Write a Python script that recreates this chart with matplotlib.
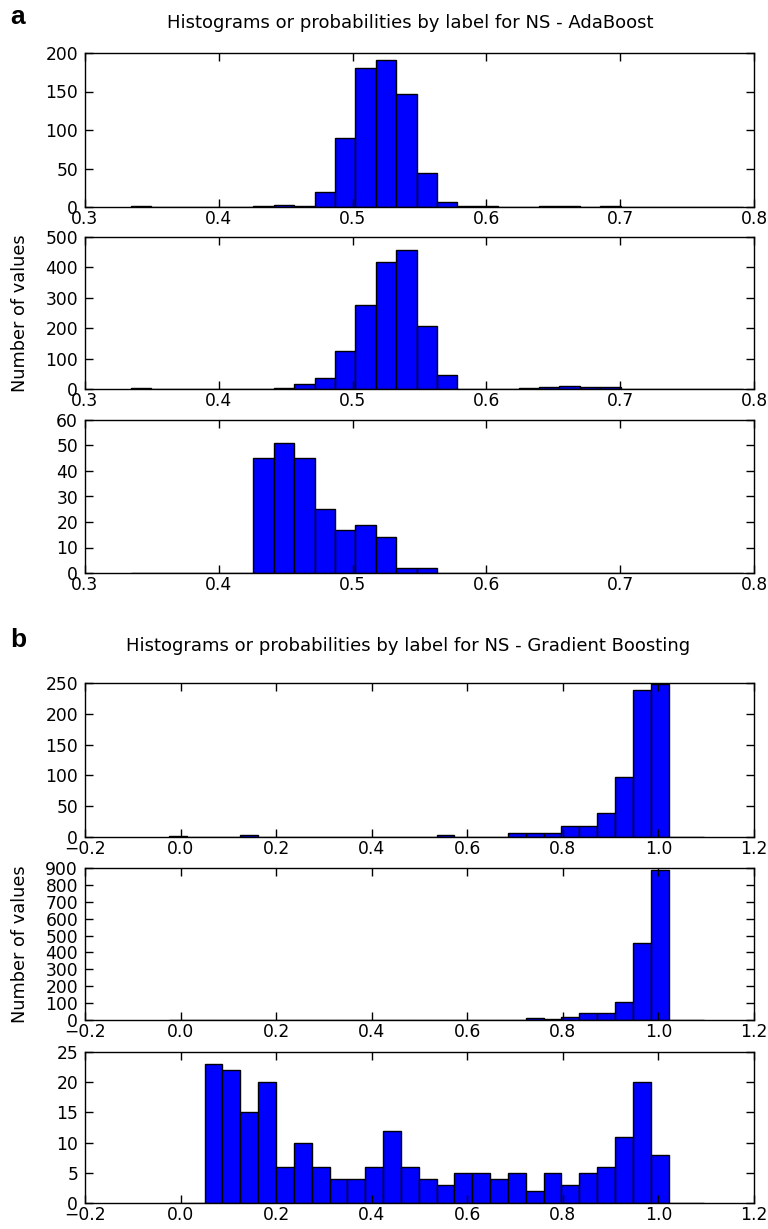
import numpy as np
import matplotlib.pyplot as plt

# AdaBoost: 30 shared bins between these limits
ada_range = (0.3344, 0.7918)
ada_counts_1 = [1, 0, 0, 0, 0, 0, 1, 3, 1, 19, 90, 180, 191, 147, 44,
                7, 1, 1, 0, 0, 1, 1, 0, 1, 0, 0, 0, 0, 0, 0]
ada_counts_2 = [2, 0, 0, 0, 0, 0, 1, 4, 16, 36, 125, 275, 418, 457, 207,
                45, 0, 0, 0, 2, 6, 9, 6, 6, 0, 0, 0, 0, 0, 0]
ada_counts_3 = [0, 0, 0, 0, 0, 0, 45, 51, 45, 25, 17, 19, 14, 2, 2,
                0, 0, 0, 0, 0, 0, 0, 0, 0, 0, 0, 0, 0, 0, 0]

# Gradient Boosting: 30 shared bins
gb_range = (-0.0243, 1.0958)
gb_counts_1 = [1, 0, 0, 0, 3, 0, 0, 0, 0, 0, 0, 0, 0, 0, 0,
               3, 0, 0, 0, 6, 7, 7, 18, 18, 39, 98, 239, 249, 0, 0]
gb_counts_2 = [2, 0, 0, 0, 0, 0, 2, 2, 2, 2, 2, 2, 2, 2, 2,
               2, 2, 2, 2, 2, 10, 4, 18, 43, 43, 105, 458, 889, 0, 0]
gb_counts_3 = [0, 0, 23, 22, 15, 20, 6, 10, 6, 4, 4, 6, 12, 6, 4,
               3, 5, 5, 4, 5, 2, 5, 3, 5, 6, 11, 20, 8, 0, 0]

ada_ylims = [200, 500, 60]
ada_ysteps = [50, 100, 10]
gb_ylims = [250, 900, 25]
gb_ysteps = [50, 100, 5]

W, H = 768, 1229
fig = plt.figure(figsize=(W / 100, H / 100), dpi=100)
plt.rcParams['font.family'] = 'DejaVu Sans'


def add_ax(top, bottom, left=85, right=754):
    return fig.add_axes([left / W, 1 - bottom / H, (right - left) / W, (bottom - top) / H])


def draw_panel(ax, rng, counts, xlim, xstep, ylim, ystep):
    edges = np.linspace(rng[0], rng[1], len(counts) + 1)
    ax.bar(edges[:-1], counts, width=np.diff(edges), align='edge',
           color='blue', edgecolor='black', linewidth=1)
    ax.set_xlim(*xlim)
    ax.set_ylim(0, ylim)
    ax.set_xticks(np.round(np.arange(xlim[0], xlim[1] + 1e-9, xstep), 2))
    ax.set_yticks(np.arange(0, ylim + 1, ystep))
    ax.tick_params(direction='in', top=True, right=True, length=6, width=1,
                   labelsize=12.3)
    ax.tick_params(axis='x', pad=2)
    ax.tick_params(axis='y', pad=5)
    for s in ax.spines.values():
        s.set_linewidth(1)


ada_boxes = [(53, 207), (237, 389), (420, 573)]
for (t, b), c, yl, ys in zip(ada_boxes, [ada_counts_1, ada_counts_2, ada_counts_3],
                             ada_ylims, ada_ysteps):
    draw_panel(add_ax(t, b), ada_range, c, (0.3, 0.8), 0.1, yl, ys)

gb_boxes = [(683, 837), (868, 1020), (1052, 1203)]
for (t, b), c, yl, ys in zip(gb_boxes, [gb_counts_1, gb_counts_2, gb_counts_3],
                             gb_ylims, gb_ysteps):
    draw_panel(add_ax(t, b), gb_range, c, (-0.2, 1.2), 0.2, yl, ys)

# titles, panel letters, y labels
fig.text(410 / W, 1 - 23 / H, 'Histograms or probabilities by label for NS - AdaBoost',
         ha='center', va='center', fontsize=13)
fig.text(408 / W, 1 - 646 / H, 'Histograms or probabilities by label for NS - Gradient Boosting',
         ha='center', va='center', fontsize=13)
fig.text(10 / W, 1 - 5 / H, 'a', ha='left', va='top', fontsize=19,
         fontweight='bold', family='Liberation Sans')
fig.text(10 / W, 1 - 628 / H, 'b', ha='left', va='top', fontsize=19,
         fontweight='bold', family='Liberation Sans')
fig.text(20 / W, 1 - 313 / H, 'Number of values', rotation=90,
         ha='center', va='center', fontsize=12.8)
fig.text(20 / W, 1 - 944 / H, 'Number of values', rotation=90,
         ha='center', va='center', fontsize=12.8)

fig.savefig('out.png', dpi=100, facecolor='white')
